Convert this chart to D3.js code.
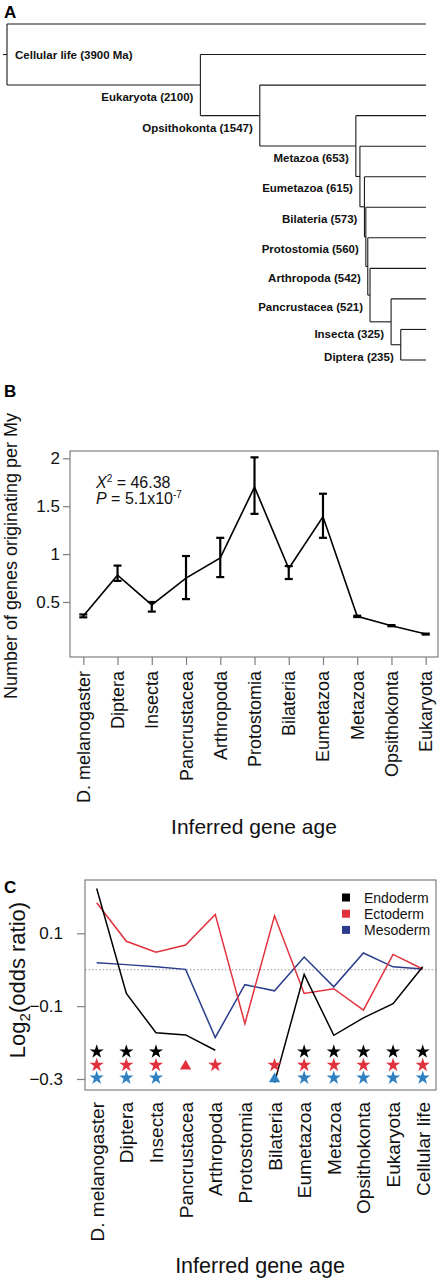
<!DOCTYPE html>
<html>
<head>
<meta charset="utf-8">
<script src="https://cdn.jsdelivr.net/npm/d3@7"></script>
<style>
  body { margin: 0; background: #fff; }
  svg { display: block; }
  text { font-family: "Liberation Sans", Arial, sans-serif; }
</style>
</head>
<body>
<svg id="fig" width="443" height="1280"></svg>
<script>
// ---------------- DATA ----------------
// Panel A: phylostrata (internal nodes of the ladder tree) and their ages (Ma)
const treeNodeNames = ["Cellular life (3900 Ma)", "Eukaryota (2100)", "Opsithokonta (1547)", "Metazoa (653)",
  "Eumetazoa (615)", "Bilateria (573)", "Protostomia (560)", "Arthropoda (542)", "Pancrustacea (521)",
  "Insecta (325)", "Diptera (235)"];
const treeNodeAges = [3900, 2100, 1547, 653, 615, 573, 560, 542, 521, 325, 235];

// Panel B: genes originating per My
const catsB = ["D. melanogaster", "Diptera", "Insecta", "Pancrustacea", "Arthropoda", "Protostomia",
  "Bilateria", "Eumetazoa", "Metazoa", "Opsithokonta", "Eukaryota"];
const rateB  = [0.355, 0.78, 0.47, 0.75, 0.96, 1.70, 0.85, 1.39, 0.35, 0.253, 0.165];
const lowerB = [0.340, 0.72, 0.40, 0.53, 0.76, 1.42, 0.74, 1.17, 0.343, 0.247, 0.160];
const upperB = [0.370, 0.88, 0.50, 0.98, 1.17, 2.01, 0.875, 1.63, 0.357, 0.259, 0.170];
const ticksB = [0.5, 1, 1.5, 2];
const statLine1 = "46.38";
const statLine2 = "5.1x10";
const statExp = "-7";

// Panel C: log2(odds ratio) by germ layer
const catsC = ["D. melanogaster", "Diptera", "Insecta", "Pancrustacea", "Arthropoda", "Protostomia",
  "Bilateria", "Eumetazoa", "Metazoa", "Opsithokonta", "Eukaryota", "Cellular life"];
const endoderm = [0.223, -0.065, -0.173, -0.179, -0.221, null, -0.31, -0.013, -0.180, -0.132, -0.093, 0.008];
const ectoderm = [0.184, 0.078, 0.048, 0.068, 0.152, -0.148, 0.148, -0.065, -0.052, -0.111, 0.042, 0.002];
const mesoderm = [0.019, 0.014, 0.008, 0.001, -0.186, -0.041, -0.058, 0.035, -0.047, 0.046, 0.008, 0.002];
const markEndo = ["star", "star", "star", "", "", "", "", "star", "star", "star", "star", "star"];
const markEcto = ["star", "star", "star", "tri", "star", "", "star", "star", "star", "star", "star", "star"];
const markMeso = ["star", "star", "star", "", "", "", "tri", "star", "star", "star", "star", "star"];
const markRowValue = [-0.225, -0.262, -0.297]; // endo, ecto, meso marker rows
const ticksC = [0.1, -0.1, -0.3];
const legendC = ["Endoderm", "Ectoderm", "Mesoderm"];

// ---------------- DRAW ----------------
const svg = d3.select("#fig");
const GRAY = "#7f7f7f";

// ===== Panel A =====
svg.append("text").attr("x", 4).attr("y", 18).attr("font-size", 17).attr("font-weight", "bold").text("A");

function buildTree(i) {
  const node = { name: treeNodeNames[i], age: treeNodeAges[i] };
  if (i === treeNodeNames.length - 1) node.children = [{ leaf: true }, { leaf: true }];
  else node.children = [{ leaf: true }, buildTree(i + 1)];
  return node;
}
const root = d3.hierarchy(buildTree(0));
const xA = d3.scaleLinear().domain([3900, 0]).range([7, 426]);
const leaves = root.leaves();
const yTip = d3.scalePoint().domain(d3.range(leaves.length)).range([24, 360]);
leaves.forEach((l, i) => { l.py = yTip(i); l.px = xA(0); });
root.eachAfter(n => {
  if (n.children) { n.py = d3.mean(n.children, c => c.py); n.px = xA(n.data.age); }
});
const gA = svg.append("g").attr("stroke", "#1a1a1a").attr("stroke-width", 1.1).attr("fill", "none");
root.descendants().forEach(n => {
  if (n.parent) {
    gA.append("line").attr("x1", n.parent.px).attr("x2", n.px).attr("y1", n.py).attr("y2", n.py);
  }
  if (n.children) {
    const ys = n.children.map(c => c.py);
    gA.append("line").attr("x1", n.px).attr("x2", n.px).attr("y1", d3.min(ys)).attr("y2", d3.max(ys));
  }
});
gA.append("line").attr("x1", 3).attr("x2", root.px).attr("y1", root.py).attr("y2", root.py);
root.descendants().filter(n => n.children).forEach(n => {
  const isRoot = !n.parent;
  svg.append("text")
    .attr("x", isRoot ? n.px + 8 : n.px - 7)
    .attr("y", isRoot ? n.py + 4 : n.py + 16)
    .attr("text-anchor", isRoot ? "start" : "end")
    .attr("font-size", 11.5).attr("font-weight", "bold").attr("fill", "#111")
    .text(n.data.name);
});

// ===== Panel B =====
svg.append("text").attr("x", 4).attr("y", 397).attr("font-size", 17).attr("font-weight", "bold").text("B");
const bL = 70, bR = 438, bT = 451, bB = 657;
const xB = d3.scalePoint().domain(catsB).range([83.3, 425.7]);
const yB = d3.scaleLinear().domain([0.5, 2]).range([602, 458.3]);
svg.append("rect").attr("x", bL).attr("y", bT).attr("width", bR - bL).attr("height", bB - bT)
  .attr("fill", "none").attr("stroke", GRAY).attr("stroke-width", 1.2);
const axBy = svg.append("g").attr("transform", `translate(${bL},0)`)
  .call(d3.axisLeft(yB).tickValues(ticksB).tickSize(7).tickPadding(3).tickFormat(d3.format("")));
axBy.select(".domain").remove();
axBy.selectAll("line").attr("stroke", GRAY).attr("stroke-width", 1.2);
axBy.selectAll("text").attr("font-size", 17).attr("font-family", "Liberation Sans, Arial, sans-serif").attr("fill", "#111");
const axBx = svg.append("g").attr("transform", `translate(0,${bB})`)
  .call(d3.axisBottom(xB).tickSize(8).tickFormat(""));
axBx.select(".domain").remove();
axBx.selectAll("line").attr("stroke", GRAY).attr("stroke-width", 1.2);
catsB.forEach(c => {
  svg.append("text").attr("transform", `translate(${xB(c)},671) rotate(-90)`)
    .attr("text-anchor", "end").attr("dy", "0.36em").attr("font-size", 18).attr("fill", "#111").text(c);
});
svg.append("text").attr("transform", "translate(17,556) rotate(-90)").attr("text-anchor", "middle")
  .attr("font-size", 18).attr("fill", "#111").text("Number of genes originating per My");
svg.append("text").attr("x", 254).attr("y", 834).attr("text-anchor", "middle")
  .attr("font-size", 21).attr("fill", "#111").text("Inferred gene age");
// line + error bars
svg.append("path").datum(catsB.map((c, i) => [xB(c), yB(rateB[i])]))
  .attr("d", d3.line()).attr("fill", "none").attr("stroke", "#000").attr("stroke-width", 1.6);
const eb = svg.append("g").attr("stroke", "#000").attr("stroke-width", 2.2);
catsB.forEach((c, i) => {
  const x = xB(c);
  eb.append("line").attr("x1", x).attr("x2", x).attr("y1", yB(lowerB[i])).attr("y2", yB(upperB[i]));
  [lowerB[i], upperB[i]].forEach(v => eb.append("line").attr("x1", x - 4).attr("x2", x + 4).attr("y1", yB(v)).attr("y2", yB(v)));
});
const t1 = svg.append("text").attr("x", 96).attr("y", 488).attr("font-size", 16).attr("font-family", "Open Sans, sans-serif").attr("fill", "#111");
t1.append("tspan").attr("font-style", "italic").text("X");
t1.append("tspan").attr("font-size", 10).attr("dy", -6).text("2");
t1.append("tspan").attr("dy", 6).text(" = " + statLine1);
const t2 = svg.append("text").attr("x", 96).attr("y", 504).attr("font-size", 16).attr("font-family", "Open Sans, sans-serif").attr("fill", "#111");
t2.append("tspan").attr("font-style", "italic").text("P");
t2.append("tspan").text(" = " + statLine2);
t2.append("tspan").attr("font-size", 10).attr("dy", -6).text(statExp);

// ===== Panel C =====
svg.append("text").attr("x", 4).attr("y", 893).attr("font-size", 17).attr("font-weight", "bold").text("C");
const cL = 85, cR = 436, cT = 880, cB = 1090;
const xC = d3.scalePoint().domain(catsC).range([96.7, 422.7]);
const yC = d3.scaleLinear().domain([-0.3, 0.1]).range([1079, 933.3]);
svg.append("line").attr("x1", cL).attr("x2", cR).attr("y1", yC(0)).attr("y2", yC(0))
  .attr("stroke", "#999").attr("stroke-width", 1.2).attr("stroke-dasharray", "1.5,2");
const colEndo = "#000000", colEcto = "#e2313d", colMeso = "#2b3d8c", colMesoStar = "#2f80c0";
const lineC = d3.line().defined(d => d[1] !== null).x(d => xC(d[0])).y(d => yC(d[1]));
[[mesoderm, colMeso], [ectoderm, colEcto], [endoderm, colEndo]].forEach(([vals, col]) => {
  svg.append("path").datum(catsC.map((c, i) => [c, vals[i]]))
    .attr("d", lineC).attr("fill", "none").attr("stroke", col).attr("stroke-width", 1.5);
});
svg.append("rect").attr("x", cL).attr("y", cT).attr("width", cR - cL).attr("height", cB - cT)
  .attr("fill", "none").attr("stroke", GRAY).attr("stroke-width", 1.2);
const axCy = svg.append("g").attr("transform", `translate(${cL},0)`)
  .call(d3.axisLeft(yC).tickValues(ticksC).tickSize(8).tickPadding(14).tickFormat(d => d3.format(".1f")(d).replace("-", "\u2212")));
axCy.select(".domain").remove();
axCy.selectAll("line").attr("stroke", GRAY).attr("stroke-width", 1.2);
axCy.selectAll("text").attr("font-size", 17).attr("font-family", "Liberation Sans, Arial, sans-serif").attr("fill", "#111");
// markers
const starSym = d3.symbol().type(d3.symbolStar).size(62);
const triSym = d3.symbol().type(d3.symbolTriangle).size(55);
[[markEndo, colEndo], [markEcto, colEcto], [markMeso, colMesoStar]].forEach(([marks, col], r) => {
  catsC.forEach((c, i) => {
    if (!marks[i]) return;
    svg.append("path").attr("d", marks[i] === "star" ? starSym() : triSym())
      .attr("transform", `translate(${xC(c)},${yC(markRowValue[r]) + (marks[i] === "tri" ? 1 : 0)})`)
      .attr("fill", col);
  });
});
// legend
[colEndo, colEcto, colMeso].forEach((col, i) => {
  const y = 897.5 + i * 16.2;
  svg.append("rect").attr("x", 342).attr("y", y - 4).attr("width", 8).attr("height", 8).attr("fill", col);
  svg.append("text").attr("x", 364).attr("y", y + 5).attr("font-size", 14).attr("fill", "#111").text(legendC[i]);
});
catsC.forEach(c => {
  svg.append("text").attr("transform", `translate(${xC(c)},1102) rotate(-90)`)
    .attr("text-anchor", "end").attr("dy", "0.37em").attr("font-size", 19).attr("fill", "#111").text(c);
});
const yl = svg.append("text").attr("transform", "translate(25,980) rotate(-90)").attr("text-anchor", "middle")
  .attr("font-size", 22).attr("fill", "#111");
yl.append("tspan").text("Log");
yl.append("tspan").attr("font-size", 15).attr("dy", 5).text("2");
yl.append("tspan").attr("dy", -5).text("(odds ratio)");
svg.append("text").attr("x", 260).attr("y", 1273).attr("text-anchor", "middle")
  .attr("font-size", 21.5).attr("fill", "#111").text("Inferred gene age");
</script>
</body>
</html>
